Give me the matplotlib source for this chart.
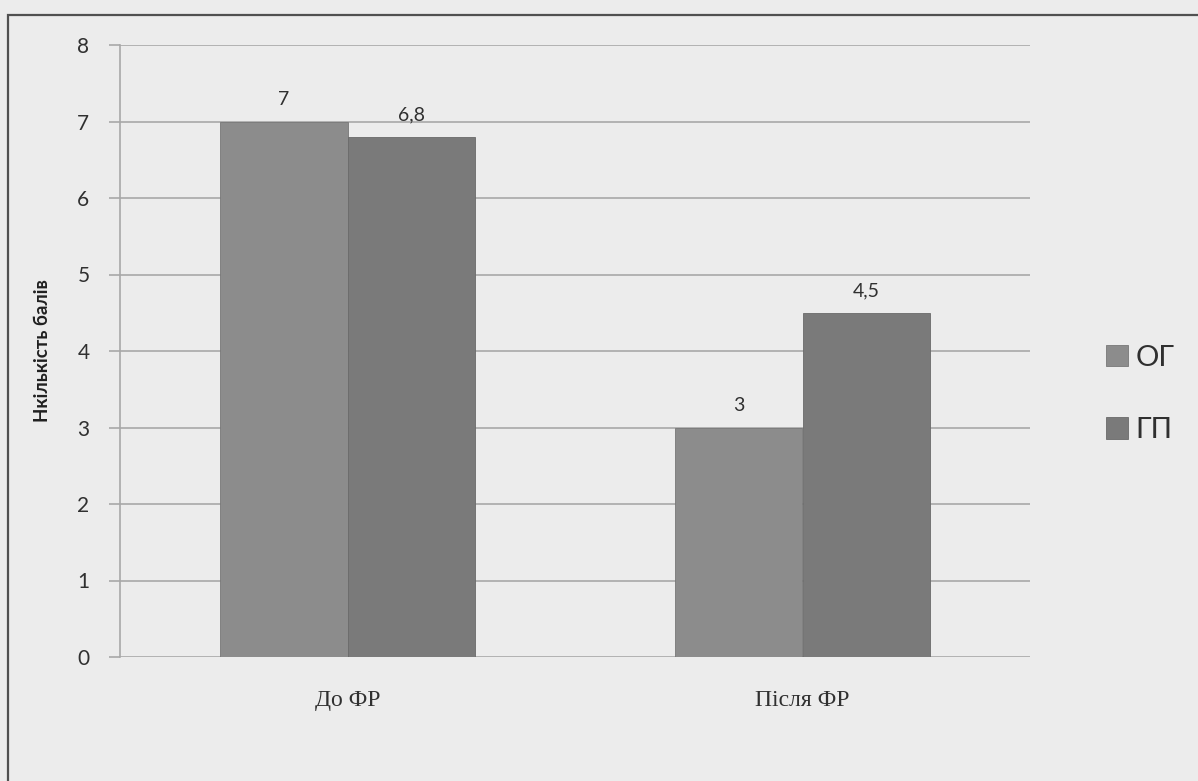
import matplotlib.pyplot as plt
import numpy as np
from matplotlib.patches import Rectangle

categories = ["До ФР", "Після ФР"]
series_names = ["ОГ", "ГП"]
og_values = [7, 3]
gp_values = [6.8, 4.5]
value_labels_og = ["7", "3"]
value_labels_gp = ["6,8", "4,5"]

colors = ["#8c8c8c", "#7a7a7a"]
bg = "#ececec"

fig = plt.figure(figsize=(11.98, 7.81), dpi=100)
fig.patch.set_facecolor(bg)

# outer chart border from the scan
fig.patches.append(Rectangle((8 / 1198, -0.05), 1.2, 1 - 15 / 781 + 0.05,
                             transform=fig.transFigure, fill=False,
                             edgecolor="#505050", linewidth=1.6))

ax = fig.add_axes([120 / 1198, 124 / 781, 910 / 1198, 612 / 781])
ax.set_facecolor(bg)

x = np.arange(len(categories))
w = 0.28
b1 = ax.bar(x - w / 2, og_values, w, color=colors[0], edgecolor="#777777", linewidth=0.6, label=series_names[0], zorder=3)
b2 = ax.bar(x + w / 2, gp_values, w, color=colors[1], edgecolor="#6a6a6a", linewidth=0.6, label=series_names[1], zorder=3)

for bars, labs in ((b1, value_labels_og), (b2, value_labels_gp)):
    for r, t in zip(bars, labs):
        ax.text(r.get_x() + r.get_width() / 2, r.get_height() + 0.18, t,
                ha="center", va="bottom", fontsize=14, family="Lato", color="#303030")

ax.set_xlim(-0.5, 1.5)
ax.set_ylim(0, 8)
ax.set_yticks(range(0, 9))
ax.yaxis.grid(True, color="#a8a8a8", linewidth=1.2, zorder=0)
ax.set_axisbelow(True)
for s in ("top", "right", "bottom"):
    ax.spines[s].set_visible(False)
ax.spines["left"].set_color("#a8a8a8")
ax.spines["left"].set_linewidth(1.2)
ax.tick_params(axis="y", length=8, color="#a8a8a8", width=1.2, labelsize=15, labelcolor="#303030", pad=14)
for lab in ax.get_yticklabels():
    lab.set_family("Lato")
ax.tick_params(axis="x", length=0, pad=24)
ax.set_xticks(x)
ax.set_xticklabels(categories, family="Liberation Serif", fontsize=17, color="#303030")

ax.set_ylabel("Нкількість балів", family="Lato", fontsize=13.5, fontweight="bold",
              color="#202020", labelpad=19)

leg = ax.legend(loc="center left", bbox_to_anchor=(1.055, 0.43), frameon=False,
                prop={"family": "Lato", "size": 21}, handlelength=0.75, handleheight=0.75,
                handletextpad=0.25, labelspacing=1.6, labelcolor="#303030")

fig.savefig("out.png", dpi=100, facecolor=bg)
